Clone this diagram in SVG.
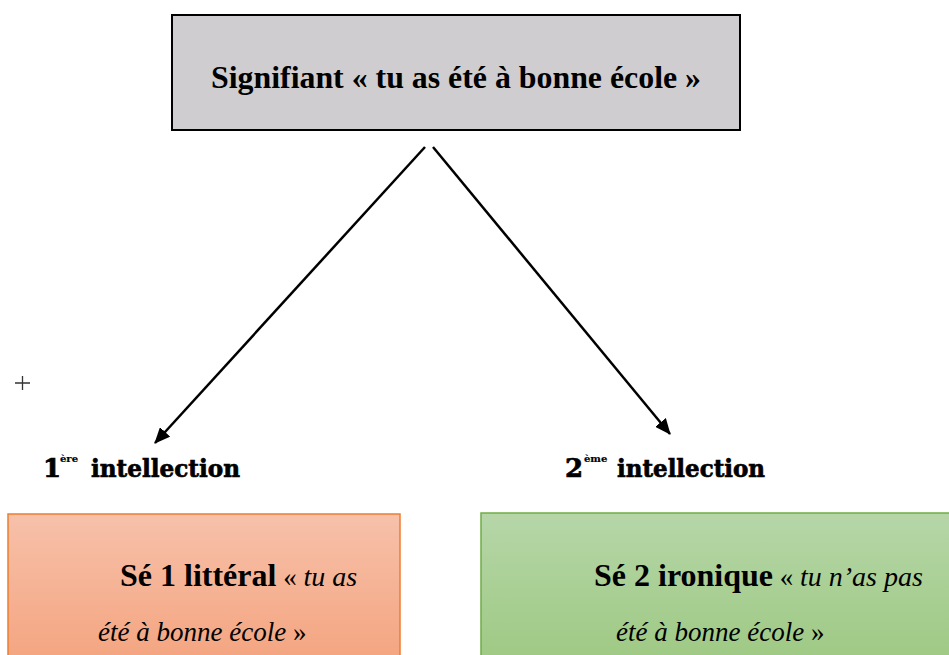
<svg xmlns="http://www.w3.org/2000/svg" width="949" height="655" viewBox="0 0 949 655">
<defs>
<linearGradient id="gOrange" x1="0" y1="0" x2="0" y2="1">
<stop offset="0" stop-color="#f7c1aa"/>
<stop offset="1" stop-color="#f4a47f"/>
</linearGradient>
<linearGradient id="gGreen" x1="0" y1="0" x2="0" y2="1">
<stop offset="0" stop-color="#b6d6a8"/>
<stop offset="1" stop-color="#9ec983"/>
</linearGradient>
<marker id="arr" viewBox="0 0 16 14" refX="15" refY="7" markerWidth="16" markerHeight="14" orient="auto" markerUnits="userSpaceOnUse">
<path d="M0,0 L16,7 L0,14 Z" fill="#000"/>
</marker>
<style>
text{font-family:'Liberation Serif','Times New Roman',Times,serif;fill:#000}
.b{font-weight:bold}
.i{font-style:italic}
.fat{font-family:'DejaVu Serif','Liberation Serif',serif;font-weight:900;stroke:#000;stroke-width:0.7}
</style>
</defs>
<rect width="949" height="655" fill="#fff"/>
<g id="signifiant">
<rect x="172" y="15" width="568" height="115" fill="#cfcdcf" stroke="#000" stroke-width="2"/>
<text class="b" x="456" y="88" font-size="32" text-anchor="middle" textLength="490" lengthAdjust="spacingAndGlyphs">Signifiant « tu as été à bonne école »</text>
</g>
<g id="connectors" stroke="#000" stroke-width="2.5" fill="none">
<line x1="425" y1="147" x2="155" y2="443" marker-end="url(#arr)"/>
<line x1="433" y1="147" x2="670" y2="434" marker-end="url(#arr)"/>
</g>
<g id="plus">
<path d="M15,383 H30 M22.5,376 V390" stroke="#333" stroke-width="1.3"/>
</g>
<g id="intellection1">
<text class="fat" x="43" y="477" font-size="26">1</text>
<text class="fat" x="60" y="462" font-size="10" style="stroke-width:0.2">ère</text>
<text class="fat" x="91" y="477" font-size="24" textLength="149" lengthAdjust="spacingAndGlyphs">intellection</text>
</g>
<g id="intellection2">
<text class="fat" x="565" y="477" font-size="26">2</text>
<text class="fat" x="584" y="462" font-size="10" style="stroke-width:0.2">ème</text>
<text class="fat" x="617" y="477" font-size="24" textLength="148" lengthAdjust="spacingAndGlyphs">intellection</text>
</g>
<g id="se1">
<rect x="8" y="514" width="392" height="150" fill="url(#gOrange)" stroke="#ed7d31" stroke-width="1.5"/>
<text x="120" y="586" font-size="32"><tspan class="b">Sé 1 littéral</tspan><tspan font-size="27"> « </tspan><tspan class="i" font-size="28">tu as</tspan></text>
<text class="i" x="98" y="641" font-size="27">été à bonne école <tspan font-style="normal">»</tspan></text>
</g>
<g id="se2">
<rect x="481" y="513" width="480" height="150" fill="url(#gGreen)" stroke="#70ad47" stroke-width="1.5"/>
<text x="594" y="586" font-size="32"><tspan class="b">Sé 2 ironique</tspan><tspan font-size="27"> « </tspan><tspan class="i" font-size="28">tu n’as pas</tspan></text>
<text class="i" x="616" y="641" font-size="27">été à bonne école <tspan font-style="normal">»</tspan></text>
</g>
</svg>
